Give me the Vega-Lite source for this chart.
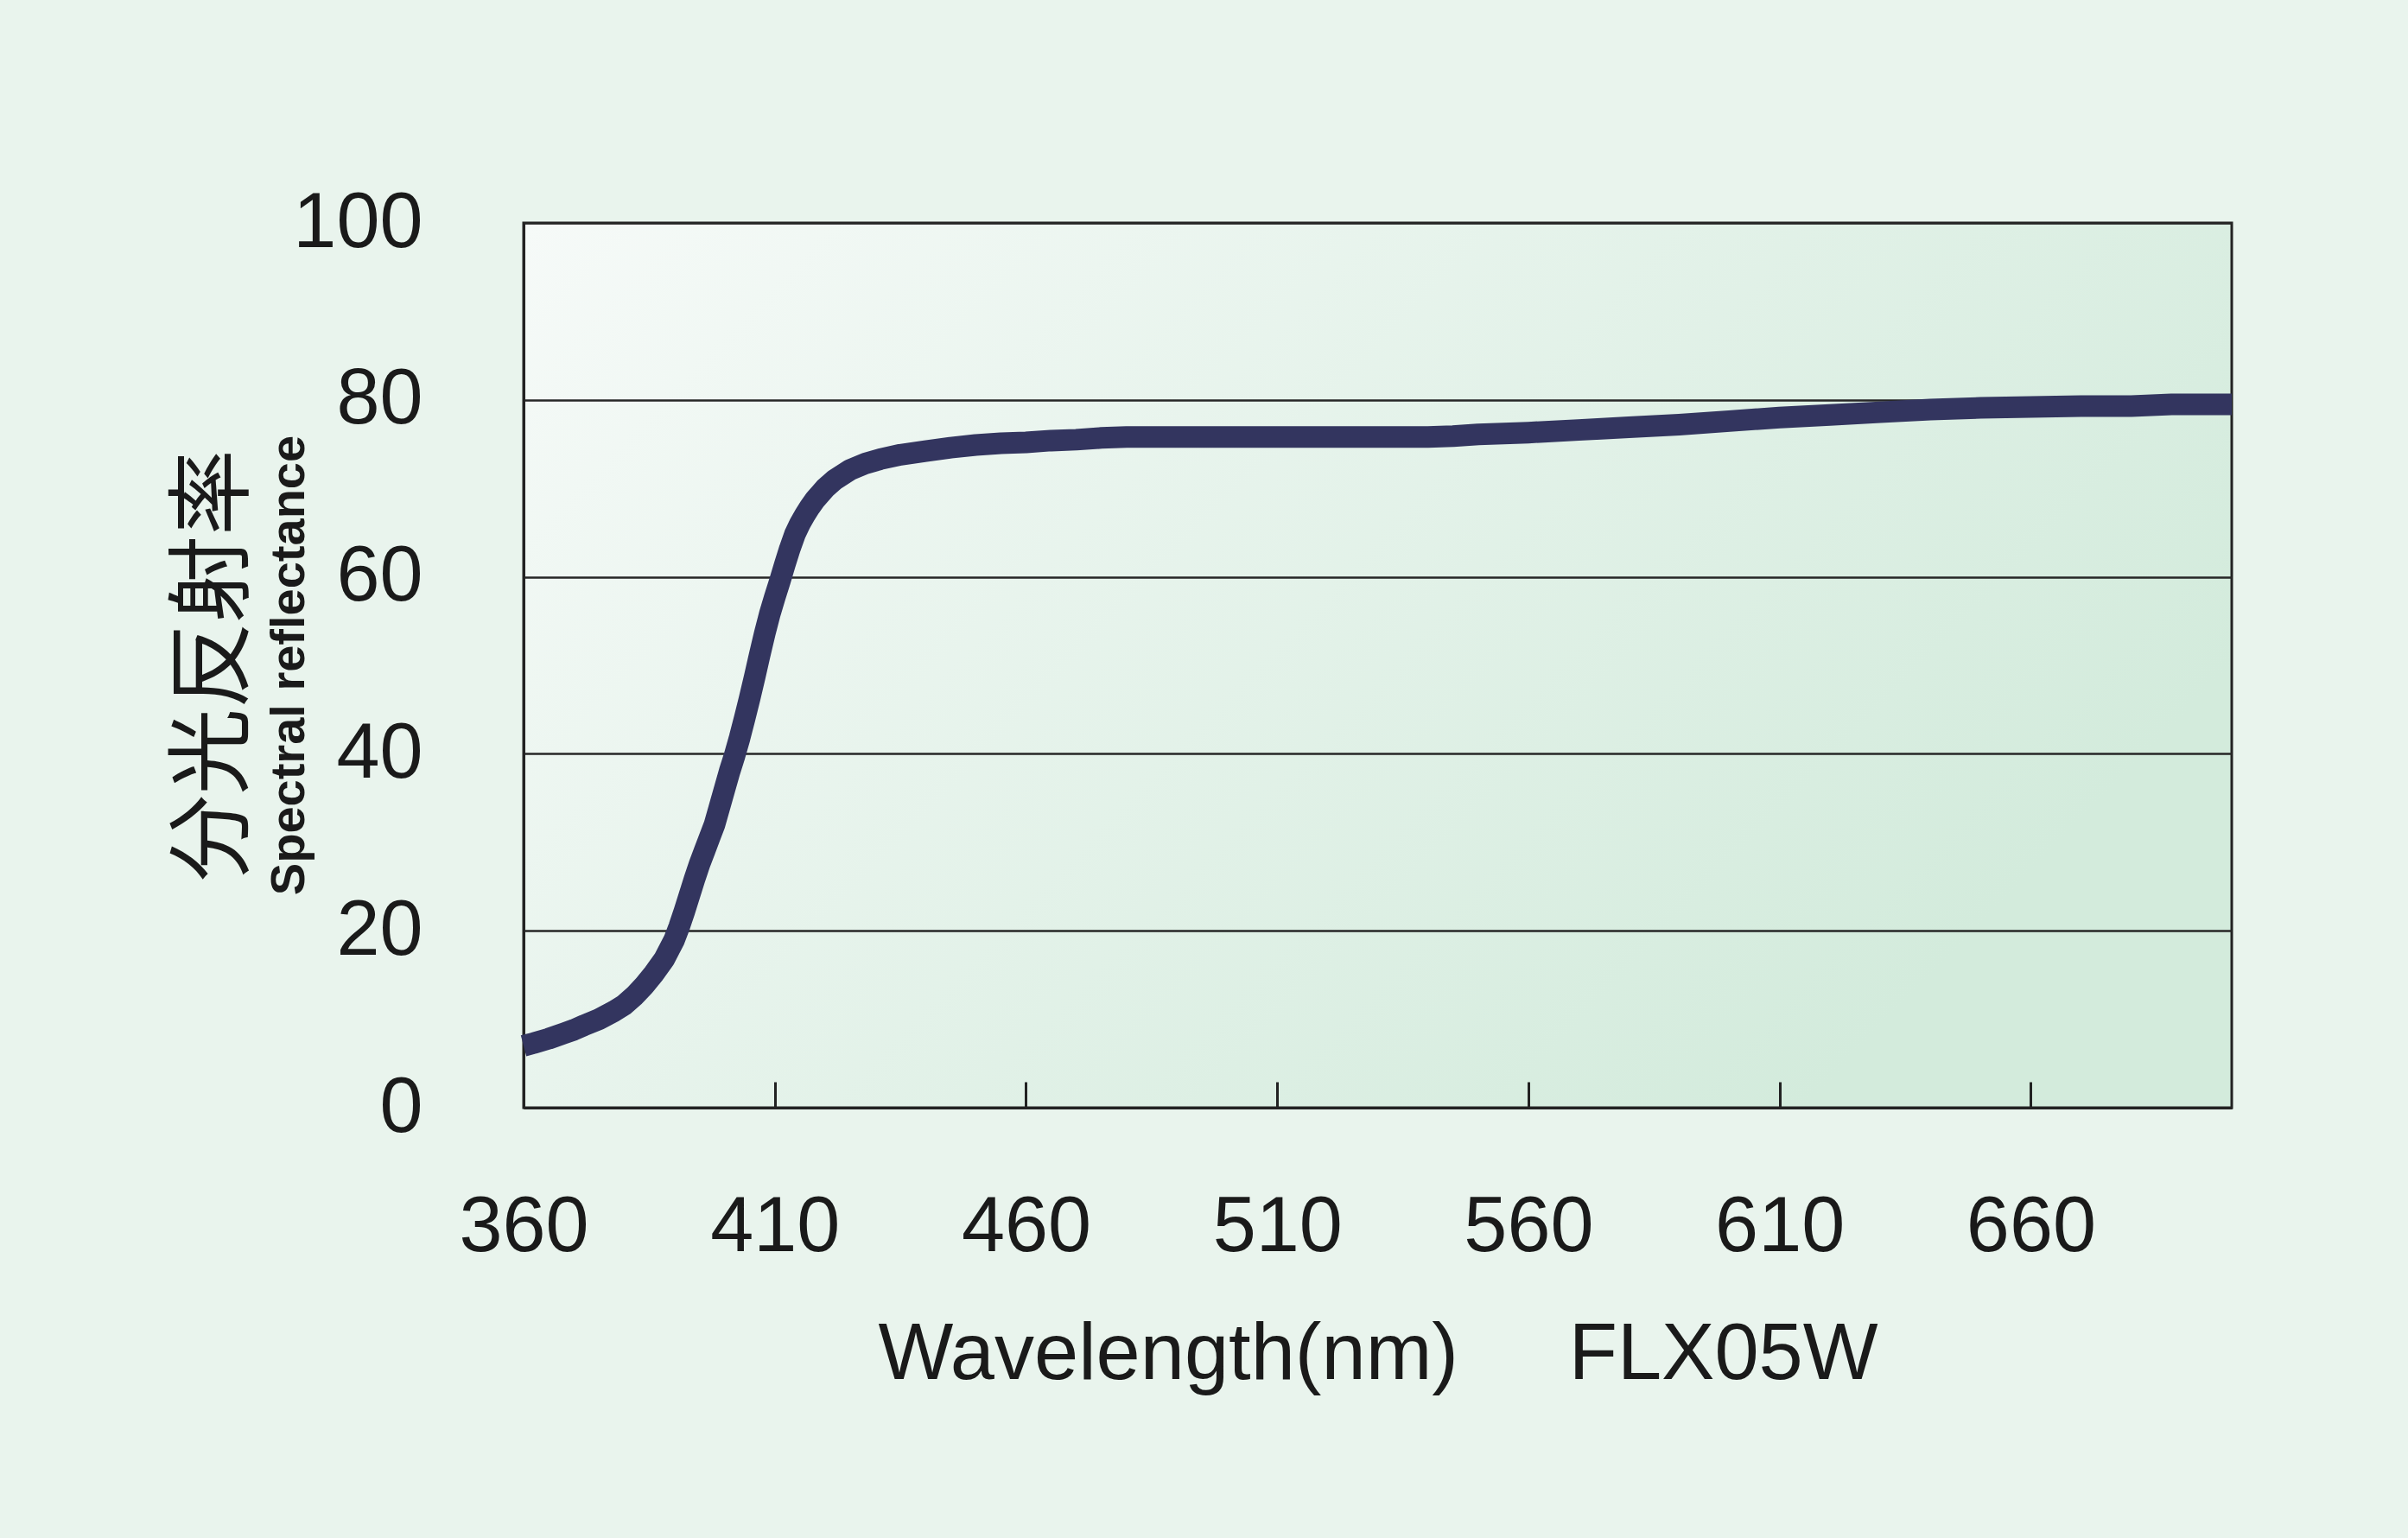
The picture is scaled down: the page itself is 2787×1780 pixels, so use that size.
{
  "$schema": "https://vega.github.io/schema/vega-lite/v6.json",
  "width": 1977,
  "height": 1024,
  "autosize": {"type": "none"},
  "padding": {"left": 606, "top": 258, "right": 204, "bottom": 498},
  "background": "#e9f4ed",
  "view": {
    "fill": {"gradient": "linear", "x1": 0, "y1": 0, "x2": 1, "y2": 0.5,
      "stops": [{"offset": 0, "color": "#f6faf8"}, {"offset": 1, "color": "#d3ebdc"}]},
    "stroke": "#222222",
    "strokeWidth": 3
  },
  "title": {
    "text": "分光反射率",
    "subtitle": "Spectral reflectance",
    "orient": "left",
    "anchor": "middle",
    "frame": "group",
    "font": "Noto Sans CJK JP",
    "fontSize": 100,
    "fontWeight": "normal",
    "color": "#1a1a1a",
    "subtitleFont": "Liberation Sans",
    "subtitleFontSize": 56,
    "subtitleFontWeight": "bold",
    "subtitleColor": "#1a1a1a",
    "subtitlePadding": 8,
    "offset": -25
  },
  "data": {"values": [
    {"wavelength": 360, "reflectance": 7.0},
    {"wavelength": 362, "reflectance": 7.3},
    {"wavelength": 365, "reflectance": 7.8},
    {"wavelength": 368, "reflectance": 8.4},
    {"wavelength": 370, "reflectance": 8.8},
    {"wavelength": 372, "reflectance": 9.3},
    {"wavelength": 375, "reflectance": 10.0},
    {"wavelength": 378, "reflectance": 10.9},
    {"wavelength": 380, "reflectance": 11.6},
    {"wavelength": 382, "reflectance": 12.6},
    {"wavelength": 384, "reflectance": 13.8},
    {"wavelength": 386, "reflectance": 15.2},
    {"wavelength": 388, "reflectance": 16.8},
    {"wavelength": 389, "reflectance": 17.9},
    {"wavelength": 390, "reflectance": 19.0},
    {"wavelength": 391, "reflectance": 20.5},
    {"wavelength": 392, "reflectance": 22.2},
    {"wavelength": 393, "reflectance": 24.0},
    {"wavelength": 394, "reflectance": 25.8},
    {"wavelength": 395, "reflectance": 27.5},
    {"wavelength": 396, "reflectance": 29.0},
    {"wavelength": 397, "reflectance": 30.5},
    {"wavelength": 398, "reflectance": 32.0},
    {"wavelength": 399, "reflectance": 34.0},
    {"wavelength": 400, "reflectance": 36.0},
    {"wavelength": 401, "reflectance": 38.0},
    {"wavelength": 402, "reflectance": 39.8},
    {"wavelength": 403, "reflectance": 41.8},
    {"wavelength": 404, "reflectance": 44.0},
    {"wavelength": 405, "reflectance": 46.3},
    {"wavelength": 406, "reflectance": 48.7},
    {"wavelength": 407, "reflectance": 51.2},
    {"wavelength": 408, "reflectance": 53.6},
    {"wavelength": 409, "reflectance": 55.8},
    {"wavelength": 410, "reflectance": 57.7},
    {"wavelength": 411, "reflectance": 59.5},
    {"wavelength": 412, "reflectance": 61.4},
    {"wavelength": 413, "reflectance": 63.2},
    {"wavelength": 414, "reflectance": 64.8},
    {"wavelength": 415, "reflectance": 66.0},
    {"wavelength": 416, "reflectance": 67.0},
    {"wavelength": 417, "reflectance": 67.9},
    {"wavelength": 418, "reflectance": 68.7},
    {"wavelength": 420, "reflectance": 70.0},
    {"wavelength": 422, "reflectance": 71.0},
    {"wavelength": 425, "reflectance": 72.1},
    {"wavelength": 428, "reflectance": 72.8},
    {"wavelength": 431, "reflectance": 73.3},
    {"wavelength": 435, "reflectance": 73.8},
    {"wavelength": 440, "reflectance": 74.2},
    {"wavelength": 445, "reflectance": 74.6},
    {"wavelength": 450, "reflectance": 74.9},
    {"wavelength": 455, "reflectance": 75.1},
    {"wavelength": 460, "reflectance": 75.2},
    {"wavelength": 465, "reflectance": 75.4},
    {"wavelength": 470, "reflectance": 75.5},
    {"wavelength": 475, "reflectance": 75.7},
    {"wavelength": 480, "reflectance": 75.8},
    {"wavelength": 490, "reflectance": 75.8},
    {"wavelength": 500, "reflectance": 75.8},
    {"wavelength": 510, "reflectance": 75.8},
    {"wavelength": 520, "reflectance": 75.8},
    {"wavelength": 530, "reflectance": 75.8},
    {"wavelength": 540, "reflectance": 75.8},
    {"wavelength": 545, "reflectance": 75.9},
    {"wavelength": 550, "reflectance": 76.1},
    {"wavelength": 560, "reflectance": 76.3},
    {"wavelength": 570, "reflectance": 76.6},
    {"wavelength": 580, "reflectance": 76.9},
    {"wavelength": 590, "reflectance": 77.2},
    {"wavelength": 600, "reflectance": 77.6},
    {"wavelength": 610, "reflectance": 78.0},
    {"wavelength": 620, "reflectance": 78.3},
    {"wavelength": 630, "reflectance": 78.6},
    {"wavelength": 640, "reflectance": 78.9},
    {"wavelength": 650, "reflectance": 79.1},
    {"wavelength": 660, "reflectance": 79.2},
    {"wavelength": 670, "reflectance": 79.3},
    {"wavelength": 680, "reflectance": 79.3},
    {"wavelength": 688, "reflectance": 79.5},
    {"wavelength": 700, "reflectance": 79.5}
  ]},
  "mark": {"type": "line", "color": "#33355f", "strokeWidth": 25, "strokeCap": "butt", "strokeJoin": "round", "clip": false},
  "encoding": {
    "x": {
      "field": "wavelength",
      "type": "quantitative",
      "scale": {"domain": [360, 700], "nice": false, "zero": false},
      "axis": {
        "values": [360, 410, 460, 510, 560, 610, 660],
        "title": "Wavelength(nm)\u00a0\u00a0\u00a0\u00a0\u00a0FLX05W",
        "grid": false,
        "tickSize": -30,
        "tickWidth": 3,
        "tickColor": "#222222",
        "labelPadding": 124,
        "labelFlush": false,
        "labelFont": "Liberation Sans",
        "labelFontSize": 90,
        "labelColor": "#1a1a1a",
        "titleFont": "Liberation Sans",
        "titleFontSize": 92,
        "titleFontWeight": "normal",
        "titleColor": "#1a1a1a",
        "titlePadding": 57,
        "domainColor": "#222222",
        "domainWidth": 3
      }
    },
    "y": {
      "field": "reflectance",
      "type": "quantitative",
      "scale": {"domain": [0, 100], "nice": false, "zero": true},
      "axis": {
        "values": [0, 20, 40, 60, 80, 100],
        "title": null,
        "grid": true,
        "gridColor": "#262626",
        "gridWidth": 2.5,
        "ticks": false,
        "labelPadding": 117,
        "labelFlush": false,
        "labelFont": "Liberation Sans",
        "labelFontSize": 90,
        "labelColor": "#1a1a1a",
        "domainColor": "#222222",
        "domainWidth": 3
      }
    }
  }
}
